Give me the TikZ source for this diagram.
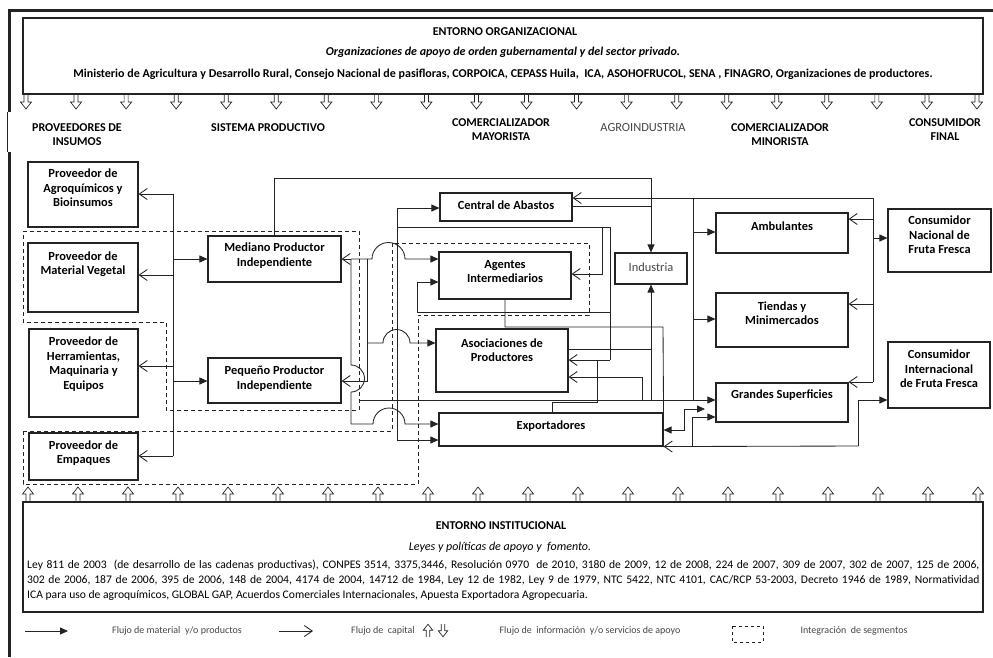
\documentclass[tikz,border=0pt]{standalone}
\usepackage{fontspec}
\setmainfont{Carlito}
\usetikzlibrary{arrows.meta,fit}
\definecolor{linec}{RGB}{35,35,35}
\definecolor{softtxt}{RGB}{70,70,70}

\begin{document}
\begin{tikzpicture}[x=1pt,y=-1pt,
  stagebox/.style={draw=linec, line width=1.1pt, inner sep=0pt},
  btxt/.style={font=\fontsize{12.4}{14.5}\selectfont\bfseries, align=center, inner sep=0pt},
  hdr/.style={font=\fontsize{12}{14}\selectfont\bfseries, align=center, inner sep=0pt},
  envtxt/.style={font=\fontsize{12}{13}\selectfont\bfseries, inner sep=0pt},
  legtxt/.style={font=\fontsize{10}{12}\selectfont, text=softtxt, inner sep=0pt},
  conn/.style={draw=linec, line width=0.85pt},
  matflow/.style={conn, -{Triangle[length=8pt,width=7pt]}},
  capflow/.style={conn, -{Straight Barb[length=8pt,width=11pt]}},
  segline/.style={draw=linec, line width=0.9pt, dash pattern=on 4pt off 3pt},
  blockarr/.style={draw=linec, line width=0.7pt},
  downarr/.pic={\draw[blockarr] (-2,0) -- (-2,8) -- (-5.5,8) -- (0,15) -- (5.5,8) -- (2,8) -- (2,0);},
  uparr/.pic={\draw[blockarr] (-2,0) -- (-2,-8) -- (-5.5,-8) -- (0,-15) -- (5.5,-8) -- (2,-8) -- (2,0);}
]
\useasboundingbox (0,0) rectangle (993,657);

% outer frame (top and left edges)
\draw[linec, line width=3pt] (7.5,10) -- (993,10);
\draw[linec, line width=3pt] (9,8.5) -- (9,112);
\draw[linec, line width=1pt] (7,112) -- (7,152);
\draw[linec, line width=3pt] (9,152) -- (9,657);

% ---------- organisational environment ----------
\node[stagebox, fit={(23,18) (983,94)}] (orgbox) {};
\node[envtxt] (orgT) at (505,32) {ENTORNO ORGANIZACIONAL};
\node[envtxt, font=\fontsize{12}{13}\selectfont\bfseries\itshape] (orgS) at (503,52)
  {Organizaciones de apoyo de orden gubernamental y del sector privado.};
\node[envtxt] (orgL) at (503,74) {Ministerio de Agricultura y Desarrollo Rural, Consejo Nacional de pasifloras, CORPOICA, CEPASS Huila,\ \ ICA, ASOHOFRUCOL, SENA , FINAGRO, Organizaciones de productores.};
\foreach \i in {0,...,19} \pic at ({26+\i*50.05},94) {downarr};

% ---------- stage headers ----------
\node[hdr] (h1) at (77,135) {PROVEEDORES DE\\INSUMOS};
\node[hdr] (h2) at (268,128) {SISTEMA PRODUCTIVO};
\node[hdr] (h3) at (501,130) {COMERCIALIZADOR\\MAYORISTA};
\node[hdr, font=\fontsize{12.4}{14}\selectfont, text=softtxt] (h4) at (643,128) {AGROINDUSTRIA};
\node[hdr] (h5) at (780,135) {COMERCIALIZADOR\\MINORISTA};
\node[hdr] (h6) at (945,130) {CONSUMIDOR\\FINAL};

% ---------- boxes ----------
\node[stagebox, fit={(28,162) (138,227)}] (agro) {};
\node[btxt] (agroT) at (83,188) {Proveedor de\\Agroquímicos y\\Bioinsumos};
\node[stagebox, fit={(28,243) (138,312)}] (matv) {};
\node[btxt] (matvT) at (83,264) {Proveedor de\\Material Vegetal};
\node[stagebox, fit={(29,329) (138,417)}] (herr) {};
\node[btxt] (herrT) at (83.5,364) {Proveedor de\\Herramientas,\\Maquinaria y\\Equipos};
\node[stagebox, fit={(29,433) (138,480)}] (emp) {};
\node[btxt] (empT) at (83.5,453) {Proveedor de\\Empaques};

\node[stagebox, fit={(208,236) (341,282)}] (med) {};
\node[btxt] (medT) at (274.5,255.5) {Mediano Productor\\Independiente};
\node[stagebox, fit={(208,358) (341,403)}] (peq) {};
\node[btxt] (peqT) at (274.5,378.5) {Pequeño Productor\\Independiente};

\node[stagebox, fit={(440,193) (572,221)}] (cen) {};
\node[btxt] (cenT) at (506,205) {Central de Abastos};
\node[stagebox, fit={(439,252) (571,299)}] (age) {};
\node[btxt] (ageT) at (505,271.5) {Agentes\\Intermediarios};
\node[stagebox, fit={(436,329) (568,392)}] (aso) {};
\node[btxt] (asoT) at (502,350) {Asociaciones de\\Productores};
\node[stagebox, fit={(439,413) (663,446)}] (exp) {};
\node[btxt] (expT) at (551,426) {Exportadores};

\node[stagebox, fit={(615,253) (687,284)}] (ind) {};
\node[btxt, font=\fontsize{12.4}{14}\selectfont, text=softtxt] (indT) at (651,267) {Industria};

\node[stagebox, fit={(716,213) (848,253)}] (amb) {};
\node[btxt] (ambT) at (782,226) {Ambulantes};
\node[stagebox, fit={(716,293) (848,347)}] (tie) {};
\node[btxt] (tieT) at (782,313) {Tiendas y\\Minimercados};
\node[stagebox, fit={(716,383) (848,422)}] (gra) {};
\node[btxt] (graT) at (782,395) {Grandes Superficies};

\node[stagebox, fit={(888,209) (991,272)}] (cnac) {};
\node[btxt] (cnacT) at (939.5,235) {Consumidor\\Nacional de\\Fruta Fresca};
\node[stagebox, fit={(888,342) (990,408)}] (cint) {};
\node[btxt] (cintT) at (939,369) {Consumidor\\Internacional\\de Fruta Fresca};

% ---------- integration of segments ----------
\draw[segline] (23,231) -- (359,231) -- (359,410) -- (166,410) -- (166,322) -- (23,322) -- cycle;
\draw[segline] (23,431) -- (392,431) -- (392,243) -- (589,243) -- (589,315) -- (418,315) -- (418,484) -- (23,484) -- cycle;

% ---------- supplier trunk ----------
\coordinate (tkT) at (173,194);
\coordinate (tkB) at (173,456);
\coordinate (tkMV) at (173,275);
\coordinate (tkHE) at (173,366);
\coordinate (tkMP) at (173,259);
\coordinate (tkPP) at (173,381);
\draw[conn] (tkT) -- (tkB);
\draw[capflow] (tkT) -- (tkT -| agro.east);
\draw[capflow] (tkMV) -- (tkMV -| matv.east);
\draw[capflow] (tkHE) -- (tkHE -| herr.east);
\draw[capflow] (tkB) -- (tkB -| emp.east);
\draw[matflow] (tkMP) -- (tkMP -| med.west);
\draw[matflow] (tkPP) -- (tkPP -| peq.west);

% ---------- producers to industry ----------
\coordinate (topR) at (651,178);
\draw[matflow] (med.north) |- (topR) -- (ind.north);
\coordinate (cj) at (651,206);
\draw[conn] (cen.east |- cj) -- (cj);

% ---------- capital bus from consumers ----------
\coordinate (rbT) at (873,198);
\coordinate (rbB) at (873,382);
\coordinate (rbA) at (873,219);
\coordinate (rbN) at (873,238);
\coordinate (rbTi) at (873,304);
\draw[conn] (rbT) -- (rbB);
\draw[capflow] (rbT) -- (rbT -| cen.east);
\draw[capflow] (rbA) -- (rbA -| amb.east);
\draw[capflow] (rbTi) -- (rbTi -| tie.east);
\draw[capflow] (rbB) -- (rbB -| gra.east);
\draw[matflow] (rbN) -- (rbN -| cnac.west);

% ---------- distribution bus to retailers ----------
\coordinate (dbT) at (693,198);
\coordinate (dbB) at (693,400);
\coordinate (dbA) at (693,232);
\coordinate (dbTi) at (693,319);
\draw[conn] (dbT) -- (dbB);
\draw[matflow] (dbA) -- (dbA -| amb.west);
\draw[matflow] (dbTi) -- (dbTi -| tie.west);

\coordinate (lnS) at (359,400);
\draw[matflow] (lnS) -- (lnS -| gra.west);
\coordinate (indB) at (651,400);
\draw[matflow] (indB) -- (ind.south);
\coordinate (asI) at (651,349);
\draw[conn] (asI -| aso.east) -- (asI);

\coordinate (gA) at (642,377);
\coordinate (gB) at (642,400);
\draw[capflow] (gB) -- (gA) -- (gA -| aso.east);

% ---------- wholesale loops ----------
\coordinate (lpL) at (397,227);
\coordinate (lpR) at (610,227);
\coordinate (lpM) at (602,227);
\coordinate (lpMa) at (602,274);
\coordinate (lpRa) at (610,360);
\coordinate (lpRb) at (610,312);
\coordinate (lpLb) at (417,312);
\coordinate (lpLa) at (417,282);
\draw[conn] (lpL) -- (lpR) -- (lpRa);
\draw[capflow] (lpRa) -- (lpRa -| aso.east);
\draw[capflow] (lpM) -- (lpMa) -- (lpMa -| age.east);
\draw[matflow] (lpRb) -- (lpLb) -- (lpLa) -- (lpLa -| age.west);

\coordinate (vT) at (397,208);
\coordinate (vB) at (397,440);
\draw[conn] (vT) -- (vB);
\draw[matflow] (vT) -- (vT -| cen.west);
\draw[matflow] (vB) -- (vB -| exp.west);

\coordinate (eA) at (552,402);
\coordinate (eB) at (597,402);
\coordinate (eC) at (597,360);
\draw[conn] (eA |- exp.north) -- (eA) -- (eB) -- (eC);

\coordinate (agB) at (505,327);
\coordinate (agC) at (663,327);
\draw[conn] (age.south) -- (agB) -- (agC) -- (exp.north east);

% ---------- producers to buyers (with hops) ----------
\coordinate (mA) at (351,259);
\coordinate (mB) at (367,259);
\coordinate (mC) at (372,259);
\draw[capflow] (mA) -- (mA -| med.east);
\draw[matflow] (mA) -- (mC) arc[start angle=180, end angle=0, radius=16.5pt] -- (mC -| age.west);

\coordinate (dA) at (351,365);
\coordinate (dB) at (351,424);
\coordinate (dC) at (373,424);
\draw[matflow] (mA) -- (dA) arc[start angle=90, end angle=-90, radius=13.5pt] -- (dB) -- (dC)
  arc[start angle=180, end angle=0, radius=16pt] -- (dC -| exp.west);

\coordinate (pA) at (367,381);
\draw[capflow] (mB) -- (pA) -- (pA -| peq.east);

\coordinate (sA) at (367,343);
\coordinate (sB) at (383,343);
\draw[matflow] (sA) -- (sB) arc[start angle=180, end angle=0, radius=13.5pt] -- (sB -| aso.west);

% ---------- exporters, large retailers and foreign consumer ----------
\coordinate (xA) at (684,430);
\coordinate (xB) at (684,409);
\coordinate (xC) at (705,409);
\draw[conn, {Triangle[length=8pt,width=7pt]}-{Triangle[length=8pt,width=7pt]}] (xA -| exp.east) -- (xA) -- (xB) -- (xC);

\coordinate (ciA) at (858,446);
\coordinate (ciB) at (858,400);
\coordinate (ciC) at (692,446);
\coordinate (ciD) at (692,417);
\draw[matflow] (ciA) -- (ciB) -- (ciB -| cint.west);
\draw[capflow] (ciA) -- (exp.south east);
\draw[matflow] (ciC) -- (ciD) -- (ciD -| gra.west);

% ---------- institutional environment ----------
\foreach \i in {0,...,19} \pic at ({28+\i*50},502) {uparr};
\node[stagebox, fit={(23,502) (983,612)}] (instbox) {};
\node[envtxt] (instT) at (501,526) {ENTORNO INSTITUCIONAL};
\node[inner sep=0pt, font=\fontsize{12}{13}\selectfont\itshape] (instS) at (500,547) {Leyes y políticas de apoyo y\ \ fomento.};
\node[anchor=north west, inner sep=0pt, text width=952pt, align=justify,
      font=\fontsize{11.6}{15}\selectfont] (instL) at (27,560)
  {Ley 811 de 2003\ \ (de desarrollo de las cadenas productivas), CONPES 3514, 3375,3446, Resolución 0970\ \ de 2010, 3180 de 2009, 12 de 2008, 224 de 2007, 309 de 2007, 302 de 2007, 125 de 2006,\linebreak
   302 de 2006, 187 de 2006, 395 de 2006, 148 de 2004, 4174 de 2004, 14712 de 1984, Ley 12 de 1982, Ley 9 de 1979, NTC 5422, NTC 4101, CAC/RCP 53-2003, Decreto 1946 de 1989, Normatividad\linebreak
   ICA para uso de agroquímicos, GLOBAL GAP, Acuerdos Comerciales Internacionales, Apuesta Exportadora Agropecuaria.};

% ---------- legend ----------
\coordinate (lgA) at (25,631);
\coordinate (lgB) at (68,631);
\draw[matflow] (lgA) -- (lgB);
\node[legtxt] (lgT1) at (177,631) {Flujo de material\ \ y/o productos};
\coordinate (lgC) at (279,631);
\coordinate (lgD) at (313,631);
\draw[capflow] (lgC) -- (lgD);
\node[legtxt] (lgT2) at (383,631) {Flujo de\ \ capital};
\pic[scale=0.85] at (428,637) {uparr};
\pic[scale=0.85] at (443,624) {downarr};
\node[legtxt] (lgT3) at (590,631) {Flujo de\ \ información\ \ y/o servicios de apoyo};
\draw[segline, line width=0.8pt, dash pattern=on 3pt off 3pt] (732,626) rectangle (763,642);
\node[legtxt] (lgT4) at (854,631) {Integración\ \ de segmentos};
\end{tikzpicture}
\end{document}
